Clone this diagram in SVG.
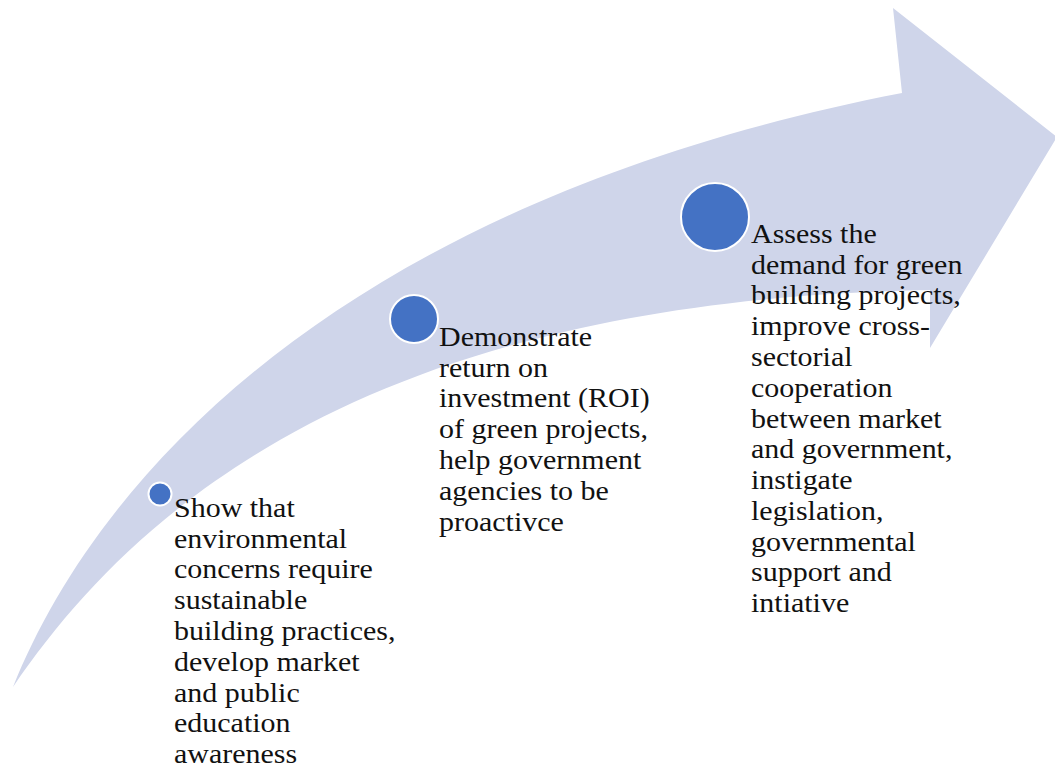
<svg xmlns="http://www.w3.org/2000/svg" width="1055" height="771" viewBox="0 0 1055 771">
  <style>
    .band { fill: #cfd5ea; stroke: none; }
    .dot { fill: #4472c4; stroke: #ffffff; stroke-width: 2; }
    .lbl { font-family: "Liberation Serif", "Times New Roman", serif; font-size: 30px; fill: #111111; }
  </style>
  <rect width="1055" height="771" fill="#ffffff"/>
  <g id="arrow">
    <path class="band" d="M13,687 C100,470 350,200 902,93 L893,8 L1057,137 L930,348 L930,290 C380,300 140,500 13,687 Z"/>
  </g>
  <g id="node1">
    <circle class="dot" cx="160" cy="494" r="11.5"/>
    <text class="lbl" transform="translate(174,517) scale(1,0.9)">
      <tspan x="0" y="0">Show that</tspan>
      <tspan x="0" dy="34.17">environmental</tspan>
      <tspan x="0" dy="34.17">concerns require</tspan>
      <tspan x="0" dy="34.17">sustainable</tspan>
      <tspan x="0" dy="34.17">building practices,</tspan>
      <tspan x="0" dy="34.17">develop market</tspan>
      <tspan x="0" dy="34.17">and public</tspan>
      <tspan x="0" dy="34.17">education</tspan>
      <tspan x="0" dy="34.17">awareness</tspan>
    </text>
  </g>
  <g id="node2">
    <circle class="dot" cx="414" cy="319" r="24"/>
    <text class="lbl" transform="translate(439,346) scale(1,0.9)">
      <tspan x="0" y="0">Demonstrate</tspan>
      <tspan x="0" dy="34.17">return on</tspan>
      <tspan x="0" dy="34.17">investment (ROI)</tspan>
      <tspan x="0" dy="34.17">of green projects,</tspan>
      <tspan x="0" dy="34.17">help government</tspan>
      <tspan x="0" dy="34.17">agencies to be</tspan>
      <tspan x="0" dy="34.17">proactivce</tspan>
    </text>
  </g>
  <g id="node3">
    <circle class="dot" cx="715" cy="217" r="34"/>
    <text class="lbl" transform="translate(751,243) scale(1,0.9)">
      <tspan x="0" y="0">Assess the</tspan>
      <tspan x="0" dy="34.17">demand for green</tspan>
      <tspan x="0" dy="34.17">building projects,</tspan>
      <tspan x="0" dy="34.17">improve cross-</tspan>
      <tspan x="0" dy="34.17">sectorial</tspan>
      <tspan x="0" dy="34.17">cooperation</tspan>
      <tspan x="0" dy="34.17">between market</tspan>
      <tspan x="0" dy="34.17">and government,</tspan>
      <tspan x="0" dy="34.17">instigate</tspan>
      <tspan x="0" dy="34.17">legislation,</tspan>
      <tspan x="0" dy="34.17">governmental</tspan>
      <tspan x="0" dy="34.17">support and</tspan>
      <tspan x="0" dy="34.17">intiative</tspan>
    </text>
  </g>
</svg>
